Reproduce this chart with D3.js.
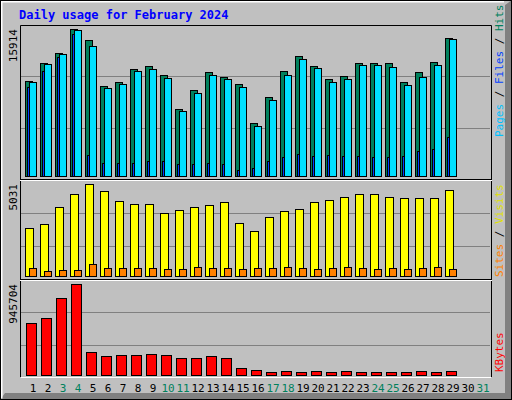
<!DOCTYPE html>
<html><head><meta charset="utf-8">
<script src="https://cdn.jsdelivr.net/npm/d3@7"></script>
<style>body{margin:0;background:#fff}</style>
</head><body>
<svg id="chart" width="512" height="400"></svg>
<script>
const days = d3.range(1, 32);
const weekends = [3, 4, 10, 11, 17, 18, 24, 25, 31];
const hits = [10285,12233,13316,15914,14723,9743,10176,11584,11909,10934,7253,9310,11259,10718,9960,5738,8553,11367,12991,11909,10501,10826,12233,12233,12233,10176,11259,12342,14940];
const files = [10176,12125,13208,15850,14074,9527,9960,11367,11584,10609,7037,8986,10934,10501,9635,5413,8228,10934,12666,11692,10176,10501,12017,12017,11800,9852,10718,12017,14831];
const pages = [9635,11367,12883,15373,2273,1407,1407,1407,1624,1624,1299,1299,1407,1299,650,866,1624,2057,2382,2165,2273,2165,2165,2057,2057,2165,2707,2923,4222];
const visits = [2625,2844,3773,4484,5031,4648,4101,3937,3937,3445,3609,3773,3883,4047,2898,2461,3226,3555,3664,4047,4156,4320,4484,4484,4320,4265,4265,4265,4703];
const sites = [437,273,328,328,656,437,437,437,437,383,383,492,437,437,383,437,437,492,437,383,437,492,437,383,437,383,437,492,383];
const kbytes = [540400,592300,800200,945704,239000,197400,207800,207800,218200,207800,176700,176700,197400,176700,72700,52000,31200,41600,31200,41600,31200,41600,31200,31200,31200,31200,41600,31200,41600];

const svg = d3.select('#chart');
const mono = 'DejaVu Sans Mono';

// background with bevel
svg.append('rect').attr('x', 0).attr('y', 0).attr('width', 512).attr('height', 400).attr('fill', '#c0c0c0');
svg.append('path').attr('d', 'M505,5 L512,0 L512,400 L0,400 L5,393 L505,393 Z').attr('fill', '#808080');
svg.append('path').attr('d', 'M1.5,398.5 L1.5,1.5 L504,1.5').attr('fill', 'none').attr('stroke', '#fff').attr('stroke-width', 2);
svg.append('rect').attr('x', 0.5).attr('y', 0.5).attr('width', 511).attr('height', 399).attr('fill', 'none').attr('stroke', '#000');

svg.append('text').attr('x', 19).attr('y', 19).attr('font-family', mono).attr('font-weight', 'bold')
    .attr('font-size', 12).attr('fill', '#0000ff').text('Daily usage for February 2024');

const x = d3.scaleLinear().domain([1, 32]).range([25, 490]);

const panels = [
    { top: 25, bottom: 179, y: d3.scaleLinear().domain([0, 15914]).range([176, 29]), max: '15914' },
    { top: 180, bottom: 279, y: d3.scaleLinear().domain([0, 5031]).range([276, 184]), max: '5031' },
    { top: 280, bottom: 377, y: d3.scaleLinear().domain([0, 945704]).range([375, 284]), max: '945704' }
];

panels.forEach(p => {
    const h = p.bottom - p.top;
    [1, 2].forEach(k => {
        const gy = Math.round(p.top + h * k / 3) + 0.5;
        svg.append('line').attr('x1', 21).attr('x2', 490).attr('y1', gy).attr('y2', gy)
            .attr('stroke', '#808080');
    });
    svg.append('text').attr('transform', `translate(17,${p.y.range()[1]}) rotate(-90)`)
        .attr('text-anchor', 'end').attr('font-family', mono).attr('font-size', 11).text(p.max);
});
// frame
svg.append('path').attr('d', 'M20.5,377 L20.5,25.5 L491.5,25.5 L491.5,377').attr('fill', 'none').attr('stroke', '#000');
svg.append('path').attr('d', 'M21,377.5 L491,377.5').attr('stroke', '#fff');
[179.5, 279.5].forEach(sy => {
    svg.append('line').attr('x1', 20).attr('x2', 492).attr('y1', sy).attr('y2', sy).attr('stroke', '#000');
    svg.append('line').attr('x1', 20).attr('x2', 492).attr('y1', sy + 1).attr('y2', sy + 1).attr('stroke', '#fff');
});

function bars(data, y, dx, w, fill) {
    svg.append('g').selectAll('rect').data(data).join('rect')
        .attr('x', (d, i) => x(i + 1) + dx + 0.5)
        .attr('y', d => Math.round(y(d)) + 0.5)
        .attr('width', w)
        .attr('height', d => y(0) - Math.round(y(d)))
        .attr('fill', fill).attr('stroke', '#000');
}
const y0 = panels[0].y, y1 = panels[1].y, y2 = panels[2].y;
bars(hits, y0, 0, 7, '#00805c');
bars(files, y0, 4, 7, '#00e0ff');
bars(pages, y0, 2, 2, '#0040ff');
bars(visits, y1, 0, 8, '#ffff00');
bars(sites, y1, 4, 7, '#ff8000');
bars(kbytes, y2, 1, 10, '#ff0000');

// day labels
svg.append('g').selectAll('text').data(days).join('text')
    .attr('x', d => x(d) + 8).attr('y', 392).attr('text-anchor', 'middle')
    .attr('font-family', mono).attr('font-size', 11)
    .attr('fill', d => weekends.includes(d) ? '#00805c' : '#000')
    .text(d => d);

// right-side legends, reading bottom to top
function legend(parts, yBottom) {
    const t = svg.append('text').attr('transform', `translate(503,${yBottom}) rotate(-90)`)
        .attr('text-anchor', 'start').attr('font-family', mono).attr('font-size', 11);
    parts.forEach(([s, c]) => t.append('tspan').attr('fill', c).text(s));
}
legend([['Pages', '#00c0ff'], [' / ', '#000'], ['Files', '#0040ff'], [' / ', '#000'], ['Hits', '#00805c']], 137);
legend([['Sites', '#ff8000'], [' / ', '#000'], ['Visits', '#e0e000']], 277);
legend([['KBytes', '#ff0000']], 372);
</script>
</body></html>
